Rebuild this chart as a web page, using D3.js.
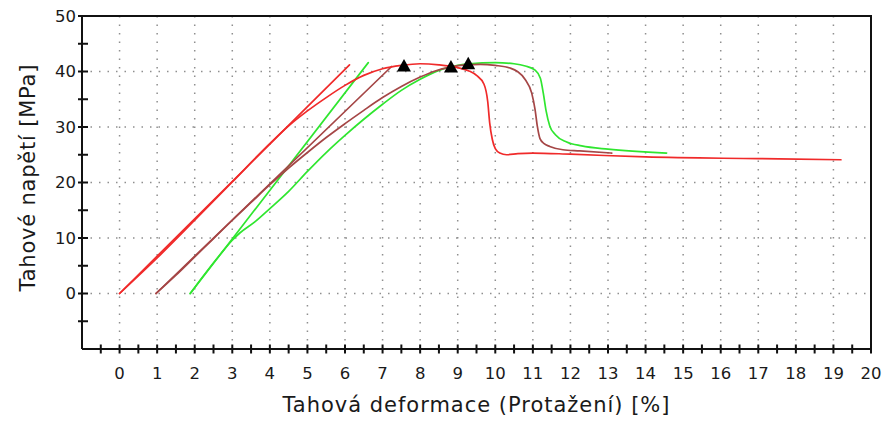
<!DOCTYPE html>
<html>
<head>
<meta charset="utf-8">
<script src="https://cdn.jsdelivr.net/npm/d3@7"></script>
<style>
  html, body { margin: 0; padding: 0; background: #fff; }
  svg { display: block; }
  text { font-family: "DejaVu Sans", Verdana, sans-serif; fill: #1a1a1a; }
</style>
</head>
<body>
<svg id="chart" width="887" height="422"></svg>
<script>
// Tensile test: stress vs. strain for three specimens
const xTickValues = d3.range(0, 21);          // strain labels 0..20 %
const yTickValues = [0, 10, 20, 30, 40, 50];  // stress labels, MPa
const xTitle = "Tahová deformace (Protažení) [%]";
const yTitle = "Tahové napětí [MPa]";

// Specimen 1 (red)
const redCurve = [[0,0],[1,6.4],[2,13.2],[3,20.1],[4,27.0],[4.5,30.2],[5,32.9],[5.5,35.3],[6,37.5],[6.5,39.3],[7,40.5],[7.5,41.1],[8,41.4],[8.5,41.2],[9,40.7],[9.3,40.1],[9.5,39.3],[9.7,37.7],[9.8,34.5],[9.85,30.8],[9.92,27.8],[10,26.1],[10.12,25.3],[10.3,25.0],[10.6,25.2],[11,25.3],[12,25.1],[14,24.6],[17,24.3],[19.2,24.1]];
const redModulus = [[0,0],[6.12,41.2]];

// Specimen 2 (brown)
const brownCurve = [[0.97,0],[1.5,3.3],[2,6.6],[2.5,9.9],[3,13.2],[3.5,16.4],[4,19.6],[4.5,22.6],[5,25.4],[5.5,28.1],[6,30.6],[6.5,33.0],[7,35.3],[7.5,37.3],[8,39.0],[8.4,40.1],[8.8,40.8],[9.2,41.2],[9.6,41.3],[10,41.1],[10.4,40.6],[10.8,38.5],[10.97,36.1],[11.06,33.1],[11.12,30.1],[11.19,27.9],[11.3,27.0],[11.45,26.5],[11.8,25.9],[12.25,25.7],[13.1,25.3]];
const brownModulus = [[0.97,0],[7.24,40.9]];

// Specimen 3 (green)
const greenCurve = [[1.88,0],[2.3,3.8],[2.7,7.2],[3,9.6],[3.2,10.9],[3.6,12.9],[4,15.3],[4.5,18.4],[5,22.0],[5.5,25.4],[6,28.5],[6.5,31.4],[7,34.1],[7.5,36.6],[8,38.6],[8.5,40.2],[9,41.1],[9.3,41.4],[10,41.6],[10.5,41.4],[10.8,41.0],[11.05,40.3],[11.2,38.8],[11.28,36.0],[11.35,33.0],[11.45,30.2],[11.6,28.6],[11.9,27.3],[12.3,26.6],[13,26.0],[14.56,25.3]];
const greenModulus = [[1.88,0],[6.62,41.6]];

// Maximum stress points
const peakMarkers = [[7.57,41.0],[8.82,40.8],[9.28,41.4]];

const series = [
  { color: "#2fe62f", curve: greenCurve, modulus: greenModulus },
  { color: "#a54646", curve: brownCurve, modulus: brownModulus },
  { color: "#f02a2a", curve: redCurve,   modulus: redModulus }
];

const svg = d3.select("#chart");
const plotLeft = 82, plotRight = 871, plotTop = 16, plotBottom = 349;

const x = d3.scaleLinear().domain([-1, 20]).range([plotLeft, plotRight]);
const y = d3.scaleLinear().domain([-10, 50]).range([plotBottom, plotTop]);

// dotted grid
const grid = svg.append("g").attr("stroke", "#8f8f8f").attr("stroke-width", 1.5)
  .attr("stroke-dasharray", "1.5,7").attr("fill", "none");
grid.selectAll("line.v").data(d3.range(0, 20)).join("line").attr("class", "v")
  .attr("x1", d => x(d)).attr("x2", d => x(d))
  .attr("y1", plotBottom).attr("y2", plotTop);
grid.selectAll("line.h").data(d3.range(0, 50, 10)).join("line").attr("class", "h")
  .attr("y1", d => y(d)).attr("y2", d => y(d))
  .attr("x1", plotLeft).attr("x2", plotRight);

// frame (top and right)
svg.append("path")
  .attr("d", `M${plotLeft},${plotTop}H${plotRight}V${plotBottom}`)
  .attr("fill", "none").attr("stroke", "#111").attr("stroke-width", 2);

// x axis with half-unit ticks crossing the line
const xAxisG = svg.append("g").attr("transform", `translate(0,${plotBottom})`);
xAxisG.append("line").attr("x1", plotLeft).attr("x2", plotRight)
  .attr("stroke", "#111").attr("stroke-width", 2);
xAxisG.selectAll("line.t").data(d3.range(-0.5, 20.01, 0.5)).join("line").attr("class", "t")
  .attr("x1", d => x(d)).attr("x2", d => x(d))
  .attr("y1", -4.5).attr("y2", 4.5)
  .attr("stroke", "#111").attr("stroke-width", 2);
xAxisG.selectAll("text").data(xTickValues).join("text")
  .attr("x", d => x(d)).attr("y", 30)
  .attr("text-anchor", "middle").attr("font-size", 16.5)
  .text(d => d);

// y axis with ticks every 5 MPa
const yAxisG = svg.append("g").attr("transform", `translate(${plotLeft},0)`);
yAxisG.append("line").attr("y1", plotTop).attr("y2", plotBottom)
  .attr("stroke", "#111").attr("stroke-width", 2);
yAxisG.selectAll("line.t").data(d3.range(-5, 50.01, 5)).join("line").attr("class", "t")
  .attr("y1", d => y(d)).attr("y2", d => y(d))
  .attr("x1", -4).attr("x2", 6)
  .attr("stroke", "#111").attr("stroke-width", 2);
yAxisG.selectAll("text").data(yTickValues).join("text")
  .attr("x", -6).attr("y", d => y(d))
  .attr("dy", "0.36em")
  .attr("text-anchor", "end").attr("font-size", 16.5)
  .text(d => d);

// axis titles
svg.append("text")
  .attr("x", 476).attr("y", 412)
  .attr("text-anchor", "middle").attr("font-size", 21)
  .attr("textLength", 387).attr("lengthAdjust", "spacing")
  .text(xTitle);
svg.append("text")
  .attr("transform", `translate(35,178) rotate(-90)`)
  .attr("text-anchor", "middle").attr("font-size", 21)
  .attr("textLength", 227).attr("lengthAdjust", "spacing")
  .text(yTitle);

// curves
const line = d3.line().x(d => x(d[0])).y(d => y(d[1]));
const smooth = d3.line().x(d => x(d[0])).y(d => y(d[1])).curve(d3.curveMonotoneX);
const curves = svg.append("g").attr("fill", "none").attr("stroke-width", 1.7)
  .attr("stroke-linejoin", "round").attr("stroke-linecap", "round");
series.forEach(s => {
  curves.append("path").attr("d", line(s.modulus)).attr("stroke", s.color);
  curves.append("path").attr("d", smooth(s.curve)).attr("stroke", s.color);
});

// peak markers
svg.append("g").selectAll("path").data(peakMarkers).join("path")
  .attr("transform", d => `translate(${x(d[0])},${y(d[1])})`)
  .attr("d", "M0,-7L7,5.5L-7,5.5Z")
  .attr("fill", "#000");
</script>
</body>
</html>
